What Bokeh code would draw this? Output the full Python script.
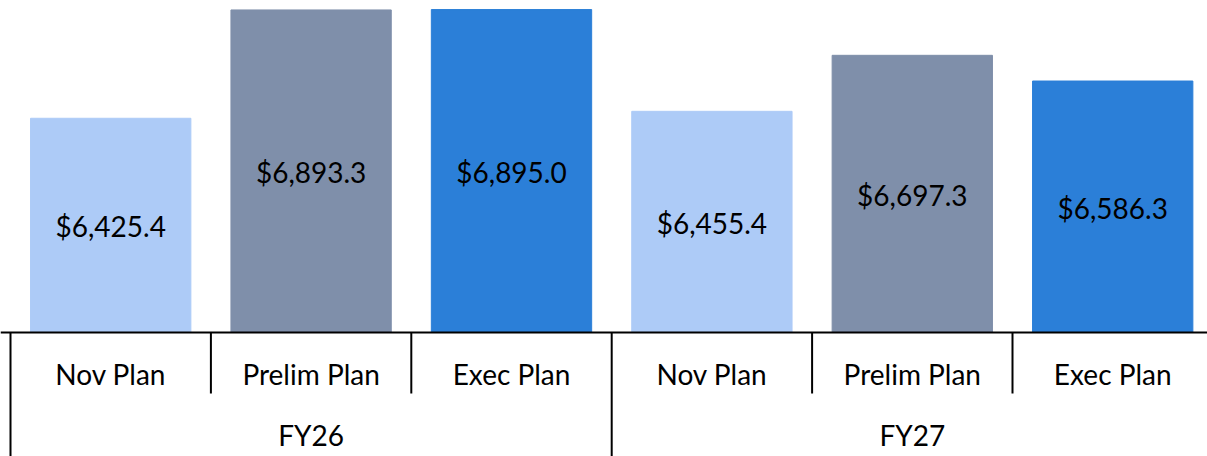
from bokeh.plotting import figure
from bokeh.models import Range1d, ColumnDataSource
from bokeh.core.properties import value
from bokeh.embed import file_html
from bokeh.resources import INLINE

# ---- data ----
groups = ["FY26", "FY27"]
plans = ["Nov Plan", "Prelim Plan", "Exec Plan"]
values = [6425.4, 6893.3, 6895.0, 6455.4, 6697.3, 6586.3]
plan_colors = ["#ADCBF7", "#7F8FAA", "#2B7FD8"]

# ---- layout ----
W, H = 1207, 456
BASE_PX = 332          # baseline pixel from top
VMIN = 5500.0          # value axis minimum
PPU = 0.2315           # pixels per value unit
LEFT_PX = 10           # left edge of first category
CAT_PX = 200.4         # pixel width per category

def ydata(px):
    return VMIN + (BASE_PX - px) / PPU

x_start = -LEFT_PX / CAT_PX
x_end = x_start + W / CAT_PX

p = figure(width=W, height=H, output_backend="svg", toolbar_location=None,
           x_range=Range1d(x_start, x_end), y_range=Range1d(ydata(H), ydata(0)),
           x_axis_type=None, y_axis_type=None, min_border=0)
p.grid.visible = False
p.outline_line_color = None
p.background_fill_color = "white"
p.border_fill_color = "white"

n = len(groups) * len(plans)
xs = [i + 0.5 for i in range(n)]
cols = [plan_colors[i % len(plans)] for i in range(n)]
labels = [f"${v:,.1f}" for v in values]
sub_labels = [plans[i % len(plans)] for i in range(n)]

src = ColumnDataSource(dict(x=xs, top=values, color=cols, label=labels,
                            ymid=[ydata(((BASE_PX - (v - VMIN) * PPU) + BASE_PX) / 2 + 1) for v in values],
                            sub=sub_labels, suby=[ydata(373.5)] * n))

p.vbar(x="x", top="top", bottom=VMIN, width=0.8, color="color", source=src)

p.text(x="x", y="ymid", text="label", source=src, text_align="center",
       text_baseline="middle", text_font=value("Lato"), text_font_size="28px",
       text_color="black")

# category axis line
p.segment(x0=[x_start], y0=[VMIN], x1=[n], y1=[VMIN], line_color="black", line_width=2)

# separators
long_x = [g * len(plans) for g in range(len(groups) + 1)]
short_x = [i for i in range(1, n) if i % len(plans) != 0]
p.segment(x0=long_x, y0=[VMIN] * len(long_x), x1=long_x, y1=[ydata(H)] * len(long_x),
          line_color="black", line_width=2)
p.segment(x0=short_x, y0=[VMIN] * len(short_x), x1=short_x, y1=[ydata(393)] * len(short_x),
          line_color="black", line_width=2)

# sub-category labels
p.text(x="x", y="suby", text="sub", source=src, text_align="center",
       text_baseline="middle", text_font=value("Lato"), text_font_size="28px",
       text_color="black")

# group labels
gx = [g * len(plans) + len(plans) / 2 for g in range(len(groups))]
p.text(x=gx, y=[ydata(434.5)] * len(groups), text=groups, text_align="center",
       text_baseline="middle", text_font=value("Lato"), text_font_size="28px",
       text_color="black")

open("out.html", "w").write(file_html(p, INLINE))
